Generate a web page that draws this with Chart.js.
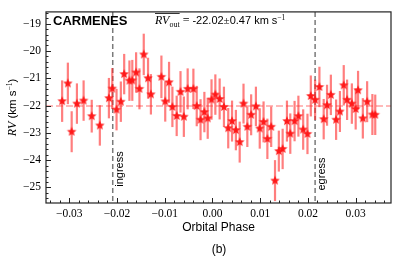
<!DOCTYPE html>
<html lang="en">
<head>
<meta charset="UTF-8"/>
<title>CARMENES RV vs Orbital Phase</title>
<script src="https://cdn.jsdelivr.net/npm/chart.js"></script>
<style>
  html, body { margin: 0; padding: 0; background: #fff; }
  #wrap { width: 399px; height: 264px; }
</style>
</head>
<body>
<div id="wrap"><canvas id="rvChart" width="399" height="264"></canvas></div>
<script>
// data
const phase = [-0.0315,-0.0303,-0.0295,-0.0284,-0.0270,-0.0253,-0.0236,-0.0217,-0.0210,-0.0201,
  -0.0192,-0.0185,-0.0174,-0.0168,-0.0160,-0.0153,-0.0144,-0.0135,-0.0129,-0.0107,
  -0.0099,-0.0091,-0.0084,-0.0075,-0.0067,-0.0060,-0.0052,-0.0040,-0.0033,-0.0025,
  -0.0017,-0.0010,-0.0002,0.0006,0.0015,0.0024,0.0033,0.0041,0.0049,0.0057,
  0.0065,0.0073,0.0081,0.0091,0.0099,0.0107,0.0115,0.0123,0.0131,0.0139,
  0.0147,0.0156,0.0163,0.0172,0.0180,0.0190,0.0199,0.0206,0.0215,0.0224,
  0.0233,0.0240,0.0248,0.0259,0.0267,0.0275,0.0282,0.0292,0.0300,0.0305,
  0.0315,0.0324,0.0335,0.0341];
const rv = [-21.84,-21.19,-22.96,-21.93,-21.82,-22.39,-22.73,-21.73,-21.38,-22.15,
  -21.86,-20.85,-21.09,-21.08,-20.79,-21.39,-20.13,-21.00,-21.59,-20.95,
  -21.85,-21.15,-22.05,-22.38,-21.50,-22.41,-21.39,-21.39,-22.02,-22.52,
  -22.24,-22.47,-21.78,-21.60,-21.76,-22.05,-22.83,-22.57,-22.90,-23.34,
  -21.93,-22.78,-22.34,-22.03,-22.84,-22.60,-23.22,-22.78,-24.75,-23.67,
  -23.59,-22.57,-23.03,-22.57,-22.39,-22.88,-23.04,-21.65,-21.79,-21.32,
  -22.50,-21.99,-21.61,-22.52,-22.22,-21.26,-21.79,-21.93,-22.13,-21.44,
  -22.47,-21.86,-22.33,-22.34];
const rvErr = [0.76,0.76,0.75,0.74,0.74,0.60,0.74,0.74,0.75,0.76,
  0.74,0.74,0.74,0.75,0.74,0.75,0.76,0.75,0.74,0.78,
  0.74,0.75,0.74,0.74,0.76,0.74,0.75,0.74,0.74,0.75,
  0.74,0.75,0.74,0.74,0.75,0.74,0.74,0.75,0.74,0.75,
  0.73,0.74,0.75,0.72,0.74,0.75,0.74,0.74,0.75,0.75,
  0.74,0.75,0.74,0.74,0.75,0.74,0.74,0.75,0.74,0.74,
  0.74,0.75,0.74,0.74,0.75,0.74,0.74,0.74,0.75,0.71,
  0.74,0.75,0.75,0.74];
const xTicks = [-0.03,-0.02,-0.01,0.00,0.01,0.02,0.03];
const yTicks = [-19,-20,-21,-22,-23,-24,-25];
const rvOut = -22.02, rvOutErr = 0.47;
const ingress = -0.0209, egress = 0.0215;

const SERIF = '"Liberation Serif", "DejaVu Serif", serif';
const SANS = '"Liberation Sans", Arial, sans-serif';

// filled star marker
function makeStar(r) {
  const c = document.createElement('canvas');
  const s = Math.ceil(r * 2 + 2);
  c.width = s; c.height = s;
  const g = c.getContext('2d');
  g.fillStyle = 'rgba(255,20,20,0.95)';
  g.beginPath();
  for (let i = 0; i < 10; i++) {
    const rr = i % 2 === 0 ? r : r * 0.45;
    const a = -Math.PI / 2 + i * Math.PI / 5;
    const px = s / 2 + rr * Math.cos(a), py = s / 2 + rr * Math.sin(a);
    i === 0 ? g.moveTo(px, py) : g.lineTo(px, py);
  }
  g.closePath(); g.fill();
  return c;
}
const star = makeStar(5);

// draws a row of text pieces [text, font, dy]
function pieces(ctx, list, x, y) {
  let w = 0;
  list.forEach(p => { ctx.font = p[1]; w += ctx.measureText(p[0]).width; });
  return { w, draw(x0) {
    let cx = x0;
    list.forEach(p => { ctx.font = p[1]; ctx.fillText(p[0], cx, y + (p[2] || 0)); cx += ctx.measureText(p[0]).width; });
  }};
}

const overlay = {
  id: 'overlay',
  beforeDatasetsDraw(chart) {
    const { ctx, chartArea: a, scales: { x, y } } = chart;
    ctx.save();
    ctx.beginPath(); ctx.rect(a.left, a.top, a.width, a.height); ctx.clip();
    // mean RV line
    ctx.strokeStyle = 'rgba(255,70,70,0.5)'; ctx.lineWidth = 1.5; ctx.setLineDash([7, 3]);
    const yy = y.getPixelForValue(rvOut);
    ctx.beginPath(); ctx.moveTo(a.left, yy); ctx.lineTo(a.right, yy); ctx.stroke();
    // ingress / egress
    ctx.strokeStyle = '#7a7a7a'; ctx.lineWidth = 1.5; ctx.setLineDash([5, 3]);
    [ingress, egress].forEach(v => {
      const xx = x.getPixelForValue(v);
      ctx.beginPath(); ctx.moveTo(xx, a.top); ctx.lineTo(xx, a.bottom); ctx.stroke();
    });
    // error bars
    ctx.setLineDash([]);
    ctx.strokeStyle = 'rgba(255,40,40,0.6)'; ctx.lineWidth = 2.2;
    phase.forEach((p, i) => {
      const xx = x.getPixelForValue(p);
      ctx.beginPath();
      ctx.moveTo(xx, y.getPixelForValue(rv[i] - rvErr[i]));
      ctx.lineTo(xx, y.getPixelForValue(rv[i] + rvErr[i]));
      ctx.stroke();
    });
    ctx.restore();
  },
  afterDraw(chart) {
    const { ctx, chartArea: a, scales: { x, y } } = chart;
    ctx.save();
    // frame
    ctx.strokeStyle = '#222'; ctx.lineWidth = 1.2;
    ctx.strokeRect(a.left, a.top, a.width, a.height);
    // inward ticks, left and bottom
    ctx.lineWidth = 1;
    for (let k = -260; k <= -185; k++) {
      const v = k / 10;
      if (v < y.min || v > y.max || k % 2 !== 0) continue;
      const len = k % 10 === 0 ? 5 : 2.5;
      const yy = Math.round(y.getPixelForValue(v)) + 0.5;
      ctx.beginPath(); ctx.moveTo(a.left, yy); ctx.lineTo(a.left + len, yy); ctx.stroke();
    }
    for (let k = -34; k <= 36; k += 2) {
      const v = k / 1000;
      if (v < x.min || v > x.max) continue;
      const len = k % 10 === 0 ? 5 : 2.5;
      const xx = Math.round(x.getPixelForValue(v)) + 0.5;
      ctx.beginPath(); ctx.moveTo(xx, a.bottom); ctx.lineTo(xx, a.bottom - len); ctx.stroke();
    }
    ctx.fillStyle = '#000';
    ctx.textBaseline = 'alphabetic';
    // CARMENES label
    ctx.font = 'bold 13px ' + SANS;
    ctx.fillText('CARMENES', 53, 25);
    // mean RV annotation
    const ann = pieces(ctx, [
      ['RV', 'italic 12px ' + SERIF],
      ['out', '8px ' + SERIF, 2.5],
      [' = ', '12px ' + SERIF],
      [rvOut.toFixed(2), '11px ' + SANS],
      ['±', '11px ' + SERIF],
      [rvOutErr.toFixed(2) + ' km s', '11px ' + SANS],
      ['−1', '7.5px ' + SERIF, -4.5]
    ], 0, 24);
    ann.draw(155);
    ctx.font = 'italic 12px ' + SERIF;
    const ovW = ctx.measureText('RV').width;
    ctx.font = '8px ' + SERIF;
    const ovW2 = ovW + ctx.measureText('out').width;
    ctx.strokeStyle = '#000'; ctx.lineWidth = 0.8;
    ctx.beginPath(); ctx.moveTo(155, 13.5); ctx.lineTo(155 + ovW2, 13.5); ctx.stroke();
    // ingress / egress labels
    ctx.font = '11px ' + SANS;
    ctx.textAlign = 'center';
    [[ingress, 169, 'ingress'], [egress, 174, 'egress']].forEach(t => {
      ctx.save();
      ctx.translate(x.getPixelForValue(t[0]) + 10, t[1]);
      ctx.rotate(-Math.PI / 2);
      ctx.fillText(t[2], 0, 0);
      ctx.restore();
    });
    // x title and caption
    ctx.font = '12px ' + SANS;
    ctx.fillText('Orbital Phase', (a.left + a.right) / 2, 231);
    ctx.fillText('(b)', 219, 253);
    // y title
    ctx.textAlign = 'left';
    ctx.save();
    ctx.translate(16, (a.top + a.bottom) / 2);
    ctx.rotate(-Math.PI / 2);
    const yl = pieces(ctx, [
      ['RV', 'italic 12px ' + SERIF],
      [' (km s', '11.5px ' + SANS],
      ['−1', '7.5px ' + SERIF, -4.5],
      [')', '11.5px ' + SANS]
    ], 0, 0);
    yl.draw(-yl.w / 2);
    ctx.restore();
    ctx.restore();
  }
};

const minus = v => String(v).replace('-', '\u2212');

new Chart(document.getElementById('rvChart'), {
  type: 'scatter',
  data: {
    datasets: [{
      data: phase.map((p, i) => ({ x: p, y: rv[i] })),
      pointStyle: star,
      pointRadius: 5,
      pointHoverRadius: 5
    }]
  },
  options: {
    responsive: false,
    devicePixelRatio: 1,
    animation: false,
    events: [],
    layout: { padding: { left: 0, right: 8, top: 7, bottom: 0 } },
    plugins: { legend: { display: false }, tooltip: { enabled: false } },
    scales: {
      x: {
        type: 'linear', min: -0.03488, max: 0.0374,
        grid: { display: false, drawTicks: false },
        border: { display: false },
        afterBuildTicks: s => { s.ticks = xTicks.map(v => ({ value: v })); },
        afterFit: s => { s.height = 61; },
        ticks: {
          padding: 4, color: '#000', maxRotation: 0, autoSkip: false,
          font: { family: SERIF, size: 11.5 },
          callback: v => minus(v.toFixed(2))
        }
      },
      y: {
        type: 'linear', min: -25.57, max: -18.572,
        grid: { display: false, drawTicks: false },
        border: { display: false },
        afterBuildTicks: s => { s.ticks = yTicks.map(v => ({ value: v })); },
        afterFit: s => { s.width = 46; },
        ticks: {
          padding: 5, color: '#000', autoSkip: false,
          font: { family: SERIF, size: 11.5 },
          callback: v => minus(v)
        }
      }
    }
  },
  plugins: [overlay]
});
</script>
</body>
</html>
